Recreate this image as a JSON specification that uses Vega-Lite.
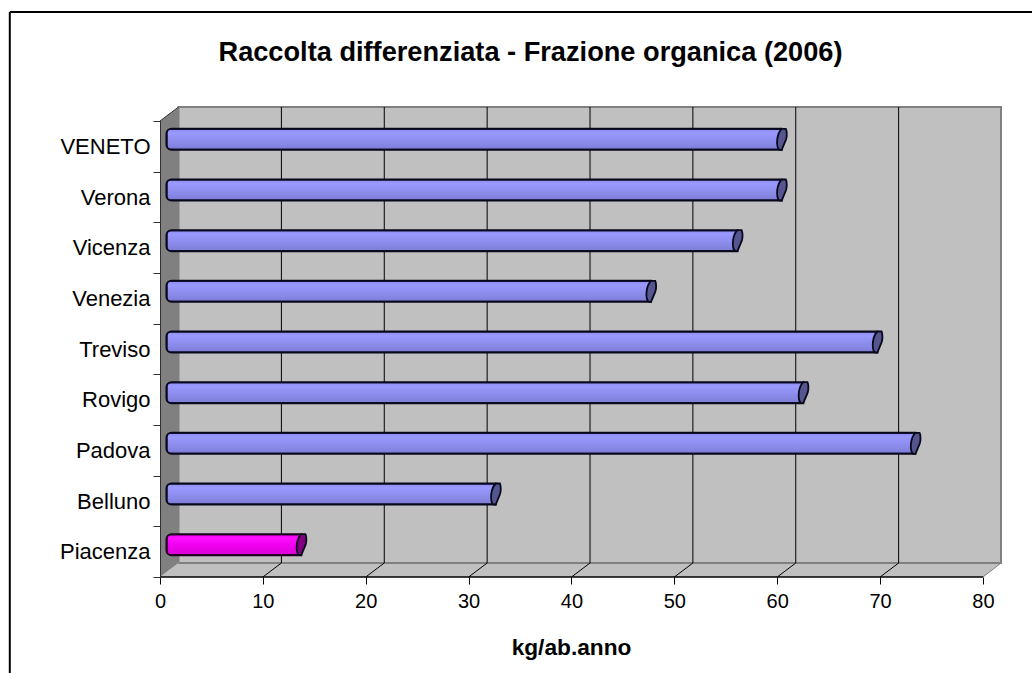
{
"$schema":"https://vega.github.io/schema/vega-lite/v6.json",
"width":841,"height":470,
"autosize":"none",
"padding":{"left":160,"top":107,"right":31,"bottom":96},
"background":"white",
"view":{"stroke":null},
"title":{"text":"Raccolta differenziata - Frazione organica (2006)","font":"Liberation Sans","fontSize":27.2,"fontWeight":"bold","color":"black","anchor":"middle","frame":"group","dx":-50,"dy":56,"offset":0},
"datasets":{
"bars":[
{"territorio":"VENETO","kg":59.8,"gruppo":"Veneto"},
{"territorio":"Verona","kg":59.8,"gruppo":"Veneto"},
{"territorio":"Vicenza","kg":55.5,"gruppo":"Veneto"},
{"territorio":"Venezia","kg":47.1,"gruppo":"Veneto"},
{"territorio":"Treviso","kg":69.1,"gruppo":"Veneto"},
{"territorio":"Rovigo","kg":61.9,"gruppo":"Veneto"},
{"territorio":"Padova","kg":72.8,"gruppo":"Veneto"},
{"territorio":"Belluno","kg":32,"gruppo":"Veneto"},
{"territorio":"Piacenza","kg":13.1,"gruppo":"Piacenza"}],
"griglia":[{"t":10,"b":11.8},{"t":20,"b":21.8},{"t":30,"b":31.8},{"t":40,"b":41.8},{"t":50,"b":51.8},{"t":60,"b":61.8},{"t":70,"b":71.8}],
"pareteSx":[{"x":0,"lo":0,"hi":456},{"x":1.8,"lo":14,"hi":470}],
"pavimento":[{"x":0,"lo":0,"hi":0},{"x":1.8,"lo":0,"hi":14},{"x":80,"lo":0,"hi":14},{"x":81.75,"lo":14,"hi":14}],
"uno":[{}]
},
"resolve":{"scale":{"y":"independent","x":"independent"}},
"layer":[
{"layer":[
{"data":{"name":"uno"},"mark":{"type":"rect","fill":"#c0c0c0","stroke":"#808080","strokeWidth":2},
 "encoding":{
  "x":{"datum":1.8,"type":"quantitative","scale":{"domain":[0,81.75],"nice":false,"zero":false},
   "axis":{"values":[0,10,20,30,40,50,60,70,80],"title":"kg/ab.anno","titleFont":"Liberation Sans","titleFontSize":22.7,"titleFontWeight":"bold","titleColor":"black","titleX":411,"titleY":70,"titleBaseline":"middle","labelFont":"Liberation Sans","labelFontSize":20,"labelColor":"black","labelPadding":7,"tickSize":7,"tickColor":"black","domain":false,"grid":false,"labelFlush":false,"labelOverlap":false,"format":"d","zindex":1}},
  "x2":{"datum":81.75},
  "y":{"datum":14,"type":"quantitative","scale":{"domain":[0,470],"nice":false,"zero":false},"axis":null},
  "y2":{"datum":470}}},
{"data":{"name":"pavimento"},"mark":{"type":"area","fill":"#c0c0c0","stroke":null},
 "encoding":{"x":{"field":"x","type":"quantitative"},"y":{"field":"lo","type":"quantitative"},"y2":{"field":"hi"}}},
{"data":{"name":"uno"},"mark":{"type":"rule","color":"#808080","strokeWidth":2},
 "encoding":{"x":{"datum":1.8,"type":"quantitative"},"x2":{"datum":81.75},"y":{"datum":14,"type":"quantitative"}}},
{"data":{"name":"pareteSx"},"mark":{"type":"area","fill":"#808080","stroke":null},
 "encoding":{"x":{"field":"x","type":"quantitative"},"y":{"field":"lo","type":"quantitative"},"y2":{"field":"hi"}}},
{"data":{"name":"griglia"},"mark":{"type":"rule","color":"black","strokeWidth":1},
 "encoding":{"x":{"field":"b","type":"quantitative"},"y":{"datum":14,"type":"quantitative"},"y2":{"datum":470}}},
{"data":{"name":"griglia"},"mark":{"type":"rule","color":"black","strokeWidth":1},
 "encoding":{"x":{"field":"t","type":"quantitative"},"x2":{"field":"b"},"y":{"datum":0,"type":"quantitative"},"y2":{"datum":14}}},
{"data":{"name":"uno"},"mark":{"type":"rule","color":"#808080","strokeWidth":1},
 "encoding":{"x":{"datum":80,"type":"quantitative"},"x2":{"datum":81.75},"y":{"datum":0,"type":"quantitative"},"y2":{"datum":14}}},
{"data":{"name":"uno"},"mark":{"type":"rule","color":"black","strokeWidth":1.5},
 "encoding":{"x":{"datum":0,"type":"quantitative"},"x2":{"datum":80},"y":{"datum":0,"type":"quantitative"}}},
{"data":{"name":"uno"},"mark":{"type":"rule","color":"#303030","strokeWidth":1},
 "encoding":{"x":{"datum":0,"type":"quantitative"},"x2":{"datum":1.8},"y":{"datum":456,"type":"quantitative"},"y2":{"datum":470}}},
{"data":{"name":"uno"},"mark":{"type":"rule","color":"black","strokeWidth":2},
 "encoding":{"x":{"datum":-14.6,"type":"quantitative"},"x2":{"datum":84.8},"y":{"datum":565,"type":"quantitative"}}},
{"data":{"name":"uno"},"mark":{"type":"rule","color":"black","strokeWidth":2},
 "encoding":{"x":{"datum":-14.6,"type":"quantitative"},"y":{"datum":565,"type":"quantitative"},"y2":{"datum":-96}}}
]},
{"data":{"name":"bars"},"layer":[
{"transform":[{"filter":"datum.gruppo === 'Veneto'"}],
 "mark":{"type":"bar","size":21,"yOffset":-7,"y2Offset":-7,"cornerRadiusTopLeft":5,"cornerRadiusBottomLeft":5,"stroke":"#08081c","strokeWidth":2,
  "fill":{"gradient":"linear","x1":0,"y1":0,"x2":0,"y2":1,"stops":[{"offset":0,"color":"#8c8cf0"},{"offset":0.2,"color":"#9999ff"},{"offset":0.5,"color":"#8f8ff0"},{"offset":1,"color":"#7d7dd6"}]}},
 "encoding":{
  "y":{"field":"territorio","type":"nominal","sort":null,"scale":{"type":"band","paddingInner":0,"paddingOuter":0,"range":[14,470]},
   "axis":{"title":null,"orient":"left","tickBand":"extent","labelFont":"Liberation Sans","labelFontSize":22,"labelColor":"black","labelPadding":3,"tickSize":7,"tickColor":"#303030","domainColor":"#303030","grid":false,"zindex":1}},
  "x":{"field":"kg","type":"quantitative","scale":{"domain":[-0.63,81.12],"nice":false,"zero":false},"axis":null}}},
{"transform":[{"filter":"datum.gruppo === 'Piacenza'"}],
 "mark":{"type":"bar","size":21,"yOffset":-7,"y2Offset":-7,"cornerRadiusTopLeft":5,"cornerRadiusBottomLeft":5,"stroke":"#1c001c","strokeWidth":2,
  "fill":{"gradient":"linear","x1":0,"y1":0,"x2":0,"y2":1,"stops":[{"offset":0,"color":"#f000f0"},{"offset":0.2,"color":"#ff10ff"},{"offset":0.5,"color":"#f000f0"},{"offset":1,"color":"#dc00d8"}]}},
 "encoding":{
  "y":{"field":"territorio","type":"nominal","sort":null},
  "x":{"field":"kg","type":"quantitative"}}},
{"mark":{"type":"point","filled":true,"size":441,"yOffset":-7,"stroke":"#08081c","strokeWidth":1.8,"opacity":1,
  "shape":"M-0.16,1 C-0.4,1 -0.48,0.4 -0.42,0 C-0.38,-0.4 -0.2,-0.8 0,-1 L0.4,-1 C0.5,-0.8 0.52,-0.3 0.42,0 L0,1 Z"},
 "encoding":{
  "y":{"field":"territorio","type":"nominal","sort":null},
  "x":{"field":"kg","type":"quantitative"},
  "fill":{"field":"gruppo","type":"nominal","scale":{"domain":["Veneto","Piacenza"],"range":["#55558f","#800080"]},"legend":null}}}
]}
]
}
